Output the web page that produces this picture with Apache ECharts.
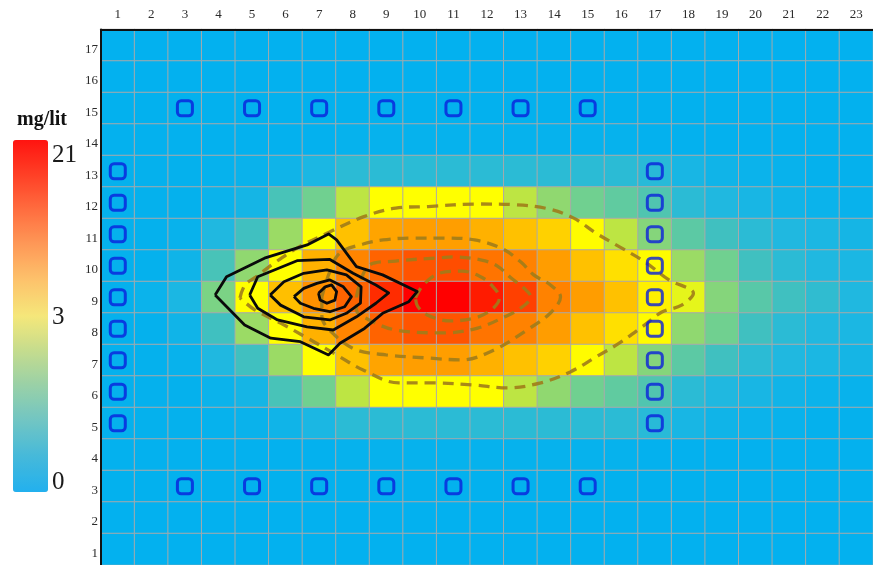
<!DOCTYPE html>
<html>
<head>
<meta charset="utf-8">
<script src="https://cdn.jsdelivr.net/npm/echarts@6/dist/echarts.min.js"></script>
<style>
  html, body { margin: 0; padding: 0; background: #ffffff; }
  #chart { width: 873px; height: 565px; }
</style>
</head>
<body>
<div id="chart"></div>
<script>
// Column and row labels of the model grid
const columnLabels = ['1','2','3','4','5','6','7','8','9','10','11','12','13','14','15','16','17','18','19','20','21','22','23'];
const rowLabels = ['1','2','3','4','5','6','7','8','9','10','11','12','13','14','15','16','17'];

// Concentration (mg/lit) per cell, first line is row 17, last line is row 1
const concentration = [
  [0.05,0.05,0.05,0.05,0.05,0.05,0.05,0.05,0.05,0.05,0.05,0.05,0.05,0.05,0.05,0.05,0.05,0.05,0.05,0.05,0.05,0.05,0.05],
  [0.05,0.05,0.05,0.05,0.05,0.05,0.05,0.05,0.05,0.05,0.05,0.05,0.05,0.05,0.05,0.05,0.05,0.05,0.05,0.05,0.05,0.05,0.05],
  [0.06,0.06,0.06,0.06,0.06,0.06,0.06,0.06,0.06,0.06,0.06,0.06,0.06,0.06,0.06,0.06,0.06,0.06,0.06,0.06,0.06,0.06,0.06],
  [0.08,0.08,0.08,0.08,0.08,0.08,0.08,0.12,0.12,0.12,0.12,0.12,0.12,0.12,0.12,0.12,0.08,0.08,0.08,0.08,0.08,0.08,0.08],
  [0.1,0.1,0.1,0.12,0.18,0.3,0.5,0.8,0.8,0.8,0.8,0.8,0.8,0.8,0.8,0.8,0.75,0.45,0.3,0.2,0.15,0.1,0.1],
  [0.1,0.1,0.1,0.2,0.4,1.3,1.8,2.5,3.0,3.0,3.0,3.0,2.5,2.1,1.8,1.6,1.4,0.8,0.6,0.45,0.3,0.2,0.15],
  [0.1,0.1,0.15,0.6,1.2,2.2,3.0,7.3,10.0,10.5,10.5,8.8,7.3,6.0,3.2,2.5,2.0,1.55,1.2,0.8,0.6,0.5,0.4],
  [0.1,0.1,0.3,1.3,2.1,3.0,8.8,12.5,15.0,16.0,16.5,13.8,12.7,10.6,7.3,5.0,3.2,2.2,1.8,1.2,0.8,0.6,0.5],
  [0.1,0.2,0.5,1.9,3.0,7.5,11.5,15.0,18.5,21.0,21.0,19.5,17.4,12.7,10.6,7.3,4.0,2.8,2.0,1.5,1.2,0.9,0.6],
  [0.1,0.1,0.3,1.2,2.2,3.0,8.8,12.5,15.0,16.0,16.0,13.8,12.7,10.6,7.3,5.0,3.2,2.1,1.8,1.2,0.8,0.6,0.5],
  [0.1,0.1,0.15,0.6,1.2,2.2,3.0,7.3,10.0,10.5,10.5,8.8,7.3,6.0,3.2,2.5,2.0,1.55,1.2,0.8,0.6,0.5,0.4],
  [0.1,0.1,0.1,0.2,0.4,1.3,1.8,2.5,3.0,3.0,3.0,3.0,2.5,2.1,1.8,1.6,1.4,0.8,0.6,0.45,0.3,0.2,0.15],
  [0.1,0.1,0.1,0.12,0.18,0.3,0.5,0.8,0.8,0.8,0.8,0.8,0.8,0.8,0.8,0.8,0.75,0.45,0.3,0.2,0.15,0.1,0.1],
  [0.08,0.08,0.08,0.08,0.08,0.08,0.08,0.12,0.12,0.12,0.12,0.12,0.12,0.12,0.12,0.12,0.08,0.08,0.08,0.08,0.08,0.08,0.08],
  [0.06,0.06,0.06,0.06,0.06,0.06,0.06,0.06,0.06,0.06,0.06,0.06,0.06,0.06,0.06,0.06,0.06,0.06,0.06,0.06,0.06,0.06,0.06],
  [0.05,0.05,0.05,0.05,0.05,0.05,0.05,0.05,0.05,0.05,0.05,0.05,0.05,0.05,0.05,0.05,0.05,0.05,0.05,0.05,0.05,0.05,0.05],
  [0.05,0.05,0.05,0.05,0.05,0.05,0.05,0.05,0.05,0.05,0.05,0.05,0.05,0.05,0.05,0.05,0.05,0.05,0.05,0.05,0.05,0.05,0.05]
];

// Colour scale: 0 -> 3 mg/lit fills the lower half, 3 -> 21 the upper half
const scaleTicks = [0, 3, 21];
const cellColors = ['#00b0f0','#20b8e0','#40c0c0','#70d090','#b0e050','#ffff00','#ffc800','#ffa200','#ff7400','#ff4000','#ff0000'];
const barColors  = ['#22b0ee','#45b9da','#70c5c4','#98d0a8','#c4dc8e','#f5e77a','#fdc36c','#fe9a58','#ff6e40','#ff4026','#ff1410'];

// Monitoring wells (column, row)
const wellRowsLine = [15, 3];
const wellColsOnRows = [3, 5, 7, 9, 11, 13, 15];
const wellColsLine = [1, 17];
const wellRowsOnCols = [5, 6, 7, 8, 9, 10, 11, 12, 13];

// Solid contours (column, row)
const solidContours = [
  [[3.90,9.07],[4.24,9.65],[5.37,10.24],[6.64,10.66],[7.28,11.01],[7.52,10.82],[8.11,9.97],[8.89,9.71],[9.92,9.18],[9.67,8.86],[8.89,8.49],[8.35,8.01],[7.62,7.54],[7.28,7.17],[6.44,7.59],[5.56,7.70],[4.78,8.12],[3.90,9.07]],
  [[4.93,9.07],[5.17,9.65],[6.34,10.16],[7.32,10.20],[8.01,9.76],[8.69,9.39],[9.07,9.14],[8.69,8.81],[8.11,8.38],[7.42,7.96],[6.64,8.06],[5.76,8.28],[5.17,8.65],[4.93,9.07]],
  [[5.54,9.07],[5.95,9.49],[6.54,9.76],[7.23,9.87],[7.81,9.71],[8.25,9.33],[8.23,8.81],[7.81,8.49],[7.32,8.28],[6.54,8.38],[5.85,8.75],[5.54,9.07]],
  [[6.25,9.02],[6.54,9.28],[6.93,9.44],[7.32,9.55],[7.72,9.33],[7.96,9.02],[7.76,8.70],[7.32,8.54],[6.83,8.65],[6.44,8.81],[6.25,9.02]],
  [[6.98,9.13],[7.18,9.33],[7.37,9.39],[7.52,9.18],[7.47,8.91],[7.23,8.81],[7.03,8.91],[6.98,9.13]]
];

// Dashed contours (column, row)
const dashedContours = [
  [[4.64,8.98],[4.79,9.39],[5.11,9.64],[5.67,10.09],[6.34,10.56],[7.31,11.07],[8.31,11.55],[9.28,11.83],[10.25,11.88],[11.72,11.96],[12.81,11.94],[13.77,11.82],[14.57,11.52],[15.24,11.04],[15.95,10.60],[16.71,10.12],[17.42,9.55],[18.15,9.13],[17.80,8.75],[17.21,8.53],[16.62,8.06],[15.95,7.55],[15.24,7.10],[14.48,6.63],[13.60,6.28],[12.60,6.12],[11.63,6.21],[10.46,6.28],[9.37,6.28],[8.31,6.69],[7.52,7.17],[6.64,7.71],[5.85,8.18],[5.08,8.60],[4.64,8.98]],
  [[7.08,9.01],[7.31,9.80],[7.61,10.40],[8.31,10.69],[8.90,10.82],[9.78,10.88],[10.75,10.88],[11.63,10.82],[12.42,10.56],[13.01,10.12],[13.39,9.71],[13.89,9.39],[14.19,9.01],[13.89,8.50],[13.19,7.96],[12.22,7.33],[11.25,7.01],[10.25,7.07],[8.99,7.17],[8.11,7.33],[7.46,7.80],[7.08,8.40],[7.08,9.01]],
  [[8.11,9.01],[8.49,10.02],[9.28,10.15],[10.54,10.25],[11.04,10.28],[11.84,10.18],[12.31,9.99],[12.72,9.61],[13.10,9.29],[13.30,9.01],[13.01,8.66],[12.51,8.37],[11.72,8.02],[10.75,7.87],[9.28,7.96],[8.49,8.28],[8.11,8.60],[8.11,9.01]],
  [[9.87,8.98],[10.10,9.39],[10.60,9.77],[11.25,9.83],[11.78,9.67],[12.13,9.39],[12.37,8.98],[12.13,8.60],[11.63,8.34],[10.90,8.25],[10.22,8.44],[9.93,8.72],[9.87,8.98]]
];

// Map a concentration onto the two-part colour scale
function scalePos(v) {
  return v <= scaleTicks[1]
    ? 0.5 * v / scaleTicks[1]
    : 0.5 + 0.5 * (v - scaleTicks[1]) / (scaleTicks[2] - scaleTicks[1]);
}

const heatData = [];
concentration.forEach((row, i) => {
  const rowNum = rowLabels.length - i;
  row.forEach((v, c) => heatData.push([c, rowNum - 1, v, scalePos(v)]));
});

const wells = [];
wellRowsLine.forEach(r => wellColsOnRows.forEach(c => wells.push([c, r])));
wellColsLine.forEach(c => wellRowsOnCols.forEach(r => wells.push([c, r])));

const serif = '"Liberation Serif", "Times New Roman", serif';
const gridBox = { left: 101, top: 29.5, width: 783, height: 535.5 };

const barTop = 140, barHeight = 352, barLeft = 13, barWidth = 35;
const tickTexts = scaleTicks.map((v, i) => {
  const t = scalePos(v);
  const y = barTop + barHeight * (1 - t);
  return {
    type: 'text',
    left: barLeft + barWidth + 4,
    top: i === scaleTicks.length - 1 ? y + 3 : (i === 0 ? y - 22 : y - 11),
    style: { text: String(v), font: '25px ' + serif, fill: '#1a1a1a' },
    z: 10
  };
});

const series = [{
  type: 'heatmap',
  xAxisIndex: 0,
  yAxisIndex: 0,
  data: heatData,
  itemStyle: { borderColor: 'rgba(170,170,170,0.95)', borderWidth: 1 },
  emphasis: { disabled: true },
  z: 2
}];

solidContours.forEach(path => series.push({
  type: 'line', xAxisIndex: 1, yAxisIndex: 1, data: path,
  symbol: 'none', smooth: false, silent: true, z: 5,
  lineStyle: { color: '#0a0a0a', width: 2.8, join: 'round' }
}));

dashedContours.forEach(path => series.push({
  type: 'line', xAxisIndex: 1, yAxisIndex: 1, data: path,
  symbol: 'none', smooth: 0.35, silent: true, z: 4,
  lineStyle: { color: 'rgba(160,124,26,0.9)', width: 3.3, type: [11, 7] }
}));

series.push({
  type: 'scatter', xAxisIndex: 1, yAxisIndex: 1, data: wells,
  symbol: 'roundRect', symbolSize: 15, silent: true, z: 6,
  itemStyle: { color: 'rgba(0,0,0,0)', borderColor: '#0a1fdc', borderWidth: 3 }
});

const chart = echarts.init(document.getElementById('chart'), null, { renderer: 'canvas' });
chart.setOption({
  animation: false,
  backgroundColor: '#ffffff',
  grid: [
    Object.assign({}, gridBox),
    Object.assign({}, gridBox)
  ],
  xAxis: [
    {
      type: 'category', data: columnLabels, gridIndex: 0, position: 'top', z: 8,
      axisLine: { show: true, lineStyle: { color: '#111111', width: 2 } },
      axisTick: { show: false },
      splitLine: { show: false },
      axisLabel: { fontFamily: serif, fontSize: 13, color: '#2a2a2a', margin: 8 }
    },
    { type: 'value', gridIndex: 1, min: 0.5, max: 23.5, show: false }
  ],
  yAxis: [
    {
      type: 'category', data: rowLabels, gridIndex: 0, z: 8,
      axisLine: { show: true, lineStyle: { color: '#111111', width: 2 } },
      axisTick: { show: false },
      splitLine: { show: false },
      axisLabel: {
        margin: 3,
        formatter: '{n|{value}}',
        rich: { n: { fontFamily: serif, fontSize: 13, color: '#2a2a2a', padding: [8, 0, 0, 0] } }
      }
    },
    { type: 'value', gridIndex: 1, min: 0.5, max: 17.5, show: false }
  ],
  visualMap: {
    type: 'continuous',
    seriesIndex: 0,
    dimension: 3,
    min: 0,
    max: 1,
    calculable: false,
    hoverLink: false,
    left: barLeft,
    top: barTop,
    padding: 0,
    itemWidth: barWidth,
    itemHeight: barHeight,
    text: null,
    inRange: { color: cellColors },
    controller: { inRange: { color: barColors } }
  },
  graphic: [
    {
      type: 'text', left: 17, top: 110,
      style: { text: 'mg/lit', font: 'bold 20px ' + serif, fill: '#111111' },
      z: 10
    }
  ].concat(tickTexts),
  series: series
});
</script>
</body>
</html>
